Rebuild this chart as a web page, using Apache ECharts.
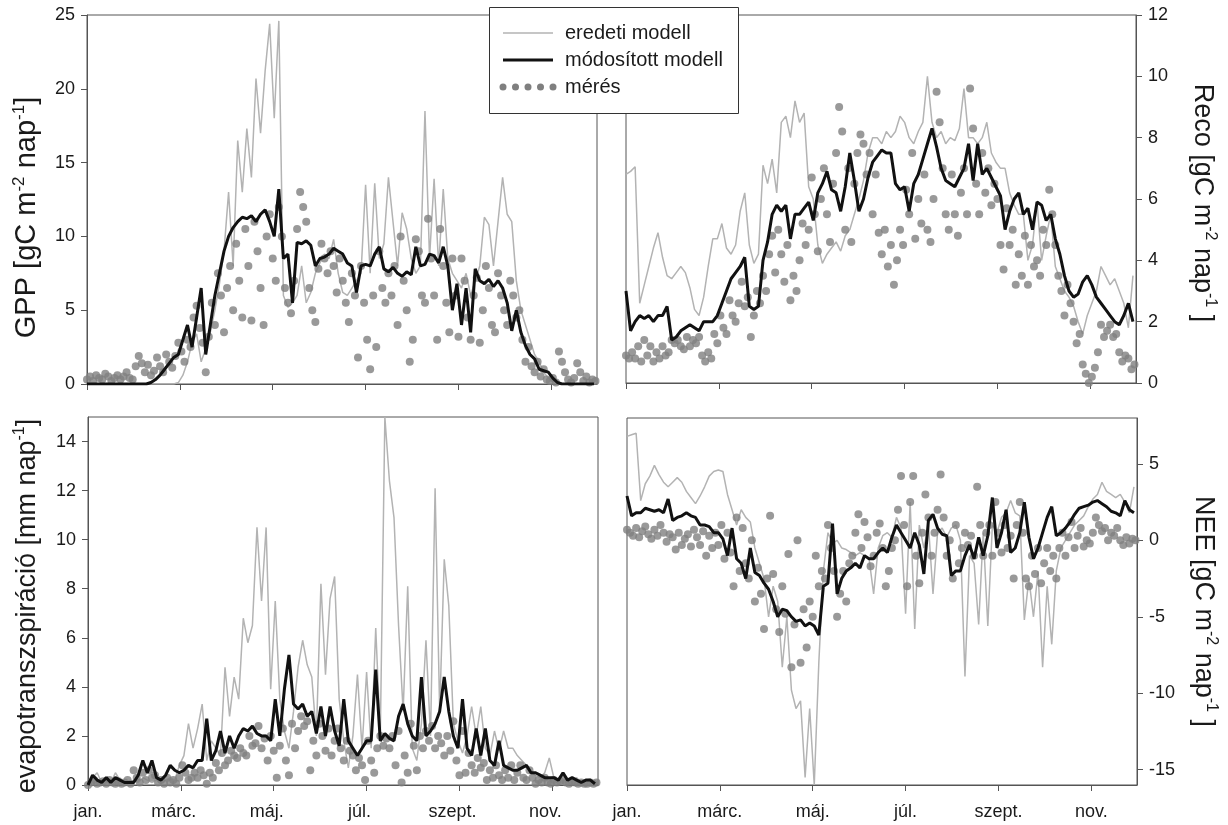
<!DOCTYPE html>
<html>
<head>
<meta charset="utf-8">
<script src="https://cdn.jsdelivr.net/npm/echarts@6/dist/echarts.min.js"></script>
<style>
html, body { margin: 0; padding: 0; background: #fff; }
#chart { width: 1228px; height: 825px; }
</style>
</head>
<body>
<div id="chart"></div>
<script>
// Model outputs are sampled every MODEL_STEP days, measurements every
// MEASURED_STEP days, both starting on 1 January.
const MODEL_STEP = 3;
const MEASURED_STEP = 2;

// Month ticks (day of period) and their labels.
const monthTicks = [0, 61, 122, 183, 244, 305];
const monthLabels = ['jan.', 'márc.', 'máj.', 'júl.', 'szept.', 'nov.'];

// Y tick values for each panel.
const gppTicks = [0, 5, 10, 15, 20, 25];
const recoTicks = [0, 2, 4, 6, 8, 10, 12];
const etTicks = [0, 2, 4, 6, 8, 10, 12, 14];
const neeTicks = [-15, -10, -5, 0, 5];

// GPP [gC m-2 nap-1]
const gppOriginal = [
  0,0,0,0,0,0,0,0,0,0,
  0,0,0,0,0,0,0,0,0,0,
  0.1,0.6,1.5,2.8,3.4,1.5,2.4,3.5,5,6.8,
  9,13,8,16.5,13,17.3,14,20.7,17,21.2,
  24.4,18,24.6,6,5.2,5.5,6,8,5.5,6.2,
  7.5,8.2,8.8,8.5,9.8,7.5,6.2,6,6.5,7,
  7.5,13.5,7.5,13.6,8.5,9.5,14,11,8,11.6,
  10.5,8.5,7.5,8,18.5,8.5,13.9,8,13.2,8.5,
  7.5,7,6.5,7.5,6,7,8,11.3,10.8,8,
  11,14,11.5,11,7,5,4,3,2,1.5,
  0.8,0.4,0.2,0,0,0,0,0,0,0,
  0,0
];
const gppModified = [
  0,0,0,0,0,0,0,0,0,0,
  0,0,0,0,0.1,0.3,0.6,1,1.4,1.8,
  2,3,4,2.5,4.5,6.5,2,4,6,7.5,
  9,10,10.6,11,11.3,11.2,11.4,11,11.5,11.8,
  11,10,13.2,8.5,8.8,5.5,9.6,9.5,9.7,9.4,
  8,8.5,8.6,8.8,9.2,9,8.8,8.2,8,6.2,
  8,8.1,8,8.8,9.3,7.8,7.6,7.9,7.5,7.3,
  7.6,7.4,9.3,8,8.1,8.8,8.7,8.2,9.3,8,
  5,6.8,4,6.5,3.5,7.8,7,6.8,7.1,6.6,
  7,6.5,5.5,3.6,5,3.5,2.6,2,1.7,1,
  0.9,0.8,0.4,0.1,0,0,0,0,0,0,
  0,0
];
const gppMeasured = [
  0.3,0.5,0.2,0.6,0.4,0.3,0.7,0.5,0.2,0.4,
  0.6,0.3,0.5,0.8,0.4,0.3,1.2,1.9,1.4,0.8,
  1.3,0.6,0.9,1.8,1.2,0.8,2,1.5,1.1,1.9,
  2.8,2.2,1.5,3,2.5,4.5,5.3,3.8,2.8,0.8,
  3.2,5.5,4,7.5,6,3.5,6.5,8,5,9.5,
  7,4.5,10.5,8,4.3,11,9,6.5,4,10,
  11.5,8.5,7,12,10,6.5,5.5,4.8,7,10.5,
  13,12,11,6.5,5,4.2,7.8,9.5,8.5,7.5,
  9,8,6.2,8.5,7,5.5,4.2,7.5,6,1.8,
  8,5.5,3,1,6,2.5,9,6.5,5.5,7.5,
  6,8,4,10,7,5,1.5,3,9.8,9,
  6,5.5,11.2,8.5,6,3,10.5,8,5.5,3.5,
  8.5,6,3.2,8.5,7,4.5,3,6,7.2,2.8,
  5,8,6.5,4,3.5,7.5,6,5,4,7,
  6,4.5,5,3,1.5,2.5,1.2,0.8,1.5,0.5,
  1,0.3,0.2,0.4,0.1,2.2,1.5,0.8,0.3,0.1,
  0.4,1.4,0.8,0.2,0.5,0.1,0.3,0.2
];

// Reco [gC m-2 nap-1]
const recoOriginal = [
  6.8,6.9,7.05,2.6,3.2,3.8,4.4,4.9,4.1,3.5,
  3.4,3.6,3.8,3.6,3.1,2.4,2.2,2.8,3.8,4.7,
  4.7,5.2,4.4,4.2,4.5,5.6,6.2,4.5,3.9,4.2,
  7.1,6.5,7.3,6.2,8.5,8.7,8,9.2,8.5,8.8,
  6.4,6,4.5,3.9,4.2,4.4,4.6,4.3,4.8,5,
  5.5,6,6.6,7.5,8,8,7.8,8.2,8,8.2,
  8.7,8.5,8,7.8,8.2,8.5,10,8.5,8,8.2,
  7.8,8,7.9,8.3,9.6,8,8,7.8,8,8.5,
  7.5,7.2,7,7,6.2,5.8,5.5,5.5,4,4.5,
  5.9,4,4.8,5.5,3.8,3.4,3,2.8,2.5,2,
  1.6,2.2,2.6,3,3.8,3.5,3.2,3.4,3,2.6,
  1.8,3.5
];
const recoModified = [
  3,1.7,2,2.2,2.1,2.2,2,2.2,2.2,2.5,
  1.4,1.5,1.7,1.8,1.9,1.8,1.7,2,2,2,
  2.2,2.6,3,3.4,3.6,3.8,4.1,2.5,2.4,2.5,
  4,4.6,5.5,5.8,5.6,5.8,4.7,5.5,5.5,5.7,
  5.9,5.3,6.2,6.5,6.9,6.3,6.2,5.6,6.4,7.5,
  6.6,5.6,6,6.7,7.2,7.4,7.6,7.5,7.5,6.5,
  6.3,6.4,5.6,6.5,6.8,7.3,7.8,8.3,7.7,7,
  6.6,6.5,6.4,6.7,7,7.8,6.6,7.8,6.8,7,
  6.7,6.4,6.1,5,5.6,6,6.2,5.5,5.7,5,
  5.9,5.8,5.3,5.5,4.7,4.2,3.5,3,2.8,2.9,
  3.3,3.5,3.2,2.8,2.6,2.4,2.2,2,1.9,2.2,
  2.6,2
];
const recoMeasured = [
  0.9,0.8,1,0.8,1.2,0.7,1.4,0.9,1.2,0.7,
  1,0.8,1.2,0.9,1,1.4,1.3,1.4,1.2,1.1,
  1.5,1.2,1.4,1.3,1.5,0.9,0.7,1,0.8,1.6,
  1.3,2.2,1.8,1.6,2.7,2.2,2,2.6,3.3,2.5,
  2.8,1.5,2.2,3,2.6,3.5,3,4.2,4.8,3.6,
  5,4.2,3.3,4.5,2.7,3.5,3,4,5.2,4.5,
  5,6.7,5.5,4.3,6,7,5.5,4.6,6.5,7.5,
  9,8.2,5,7,4.6,6.5,7.5,8.1,7.8,6.8,
  7.5,5.5,6.8,4.9,4.2,5,3.8,4.5,3.2,4,
  5,4.5,6.3,5.5,7.5,4.7,6,5.2,6.8,5,
  4.6,6,9.5,8.5,7,5.5,5,6.8,5.5,4.8,
  6.2,7,5.5,9.6,8.3,6.5,5.5,7.5,6.2,7,
  5.8,6.5,6,4.5,3.7,5.7,4.5,5,3.2,4.2,
  3.5,4.8,3.2,4.5,3.8,4,3.5,5,4.5,6.3,
  5.5,4.5,3.5,3,2.2,3.2,2.6,2,1.3,1.6,
  0.6,0.3,0,0.2,0.5,1,1.9,1.5,1.7,1.9,
  1.5,1.6,1,0.7,0.9,0.8,0.45,0.6
];

// Evapotranspiration [mm nap-1]
const etOriginal = [
  0,0.3,0.5,0.1,0.2,0.1,0.5,0.2,0.1,0.1,
  0.2,0.1,0.3,0.2,0.1,0.2,0.1,0.2,0.3,0.2,
  0.8,1.2,2.5,1.5,2.3,3.3,1,1.8,1.5,1.2,
  4.8,2.8,4.4,3.5,6.8,5.8,6.5,10.5,7.5,10.5,
  3.9,7.5,3.5,2.2,1.5,3,4.8,5.9,4.9,4.4,
  2,8.2,4.5,7.6,8.5,3.5,1.8,0.7,2,4.5,
  1.5,4.6,1.5,6.4,2,15,12.4,10.9,6.5,3,
  8.1,1.5,1,2.5,5.9,2,12.1,3,9.2,7.3,
  2.5,1.8,1.3,2,3.2,2,3.2,1.5,1.2,2.2,
  1.4,2.2,1.5,1.5,1.2,1,0.8,0.5,0.4,0.3,
  0.5,1.1,0.3,0.2,0.5,0.2,0.2,0.3,0.1,0.2,
  0.1,0.1
];
const etModified = [
  0,0.4,0.2,0.1,0.3,0.1,0.3,0.2,0.1,0.1,
  0.1,0.4,1,0.5,1,0.3,0.2,0.4,0.8,0.6,
  0.5,0.6,0.8,0.7,1,1,2.7,1,1.4,2.2,
  1.3,2,1.5,2,2.3,2.2,2.4,2.1,2,2,
  1.8,3.5,2,3.9,5.3,3.3,3.1,3.3,2.8,3,
  2.1,3.2,2,3.2,2.2,1.6,3.5,1.8,1.5,1.2,
  1.5,1.8,1.8,4.7,1.8,2.1,1.9,1.8,2.8,3.3,
  2.5,2,1.8,4.4,2,2.2,2.5,3,4.4,3,
  2,1.5,3.5,1.5,1.2,2.3,1.2,2.3,1,0.8,
  1.8,0.8,0.7,0.6,0.6,0.7,0.8,0.5,0.5,0.4,
  0.3,0.3,0.3,0.2,0.5,0.2,0.3,0.2,0.1,0.2,
  0.2,0.05
];
const etMeasured = [
  0,0.1,0.2,0.05,0.1,0.15,0.05,0.2,0.1,0.05,
  0.15,0.05,0.1,0.2,0.05,0.6,0.3,0.1,0.5,0.2,
  0.6,0.3,0.4,0.1,0.2,0.05,0.3,0.1,0.2,0.05,
  0.3,0.8,0.5,0.2,0.3,0.5,0.3,0.6,0.4,0.05,
  0.5,0.3,0.9,0.6,1.3,0.8,1,1.4,1.2,1.1,
  1.5,1.3,1.2,2,1.6,1.7,2.4,1.5,1.9,1,
  2,1.4,0.3,1.6,2.3,1,0.4,2.5,1.5,2.2,
  2.8,2.4,2.6,0.6,1.8,1.2,2.5,2,1.4,2.3,
  1.2,1.8,2.3,1.5,1,1.8,1.4,1.2,0.6,1.1,
  0.8,0.2,1.8,1,0.5,1.5,2,1.6,1.9,1.5,
  2,0.8,2.2,0.1,1.2,0.5,2.5,1.6,0.6,2,
  1.5,2.2,1.8,2.4,1.5,2,1.7,1.2,2,1.4,
  2.6,1,0.4,2.2,0.5,1.3,0.8,0.5,1.1,0.7,
  0.9,0.2,0.6,0.3,0.8,0.4,0.2,0.6,0.3,0.8,
  0.2,0.5,0.8,0.3,0.2,0.6,0.3,0.05,0.2,0.1,
  0.3,0.1,0.05,0.2,0.1,0.15,0.2,0.1,0.05,0.15,
  0.1,0.05,0.1,0.05,0.05,0.1,0.05,0.1
];

// NEE [gC m-2 nap-1]
const neeOriginal = [
  6.8,6.9,7,2.6,3.7,4.2,4.9,4.3,3.8,3.5,
  3.8,4.1,3.8,3.2,2.8,2.4,2.9,3.5,4.2,4.5,
  4.6,4.5,3,2,1,2,1.5,1.2,-0.5,-1.5,
  -2.5,-5,-3,-4,-8.3,-5,-9.8,-11,-10.5,-15.5,
  -11,-16,-8,-2,0.5,-0.2,0,-0.5,-0.6,-0.8,
  -1,-0.8,-1,-1.2,-3.5,-0.5,0.3,0.5,0.2,1.5,
  0.8,-4.8,2.5,-5.8,1,-0.5,1,-3.5,0.5,0.8,
  0.2,0.8,1,0,-8.9,-1,-1.5,-5.5,0.5,-5.6,
  1,0.5,1.5,1.8,2.6,1.8,1.6,-5.2,-2.5,-5,
  -2,-8.3,-3,-6.8,-2,-0.5,0,0.5,1,1.3,
  1.6,2.2,2.7,3,3.8,3.2,3,2.8,3,2.5,
  1.8,3.5
];
const neeModified = [
  2.9,1.6,1.8,1.8,2.1,2,1.9,2,1.8,2.7,
  1.3,1.5,1.6,1.8,1.6,1.5,1,1,0.9,0.5,
  0.5,0.1,-1,0.8,-1.2,-1.5,-2.5,-0.5,-2.1,-2.3,
  -2.8,-3.2,-4,-5,-4.5,-4.6,-5,-5.3,-5.2,-5.6,
  -5.4,-5.6,-6.2,-3,-2.8,1.1,-3.5,-2.5,-2,-1.8,
  -1.5,-1.8,-1,-1.2,-1.2,-0.8,-0.5,-0.8,0.2,1,
  0.5,0,-0.5,0.5,-0.3,-2.2,1.3,1.7,0.8,0.4,
  0.3,-2.3,-2,-2,-1,-0.3,-1.2,0.2,-1,0.3,
  2.8,-0.5,0.5,2,-0.8,-0.5,0.5,2.5,0.2,-1.2,
  -0.5,0.5,1.5,2.2,0.3,0.5,0.8,1.2,1.7,2.1,
  2.2,2.3,2.5,2.6,2.4,2.2,1.9,1.8,1.6,2.6,
  2,1.8
];
const neeMeasured = [
  0.7,0.5,0.3,0.8,0.2,0.6,0.9,0.4,0.1,0.7,
  0.3,1,0.5,-0.1,0.4,0.2,-0.6,0.5,-0.3,0.1,
  0.4,-0.4,0.7,0.2,-0.3,0.6,-1,0.3,-0.5,0.5,
  -0.3,1,-1.2,0.5,-0.8,-3,1.5,-2,0.8,-1.5,
  -2.5,0,-4,-1.8,-3.5,-5.8,-2.5,1.6,-2.2,-4.5,
  -6,-3,-4.8,-0.9,-8.3,-5.5,0,-8,-4.5,-7,
  -4,-5,-1,-3,-2,-2.5,1,-0.5,-2,-5,
  -3.5,-2,-4,-1.5,-1,0.5,1.7,-0.5,1.2,0.2,
  -1.7,-1,0.5,1.1,-0.5,-3,-2,-0.5,0,2,
  4.2,1,-3,2.5,4.2,-1,-2.8,0.5,3,1.5,
  -1,0.5,2,4.3,1.5,-1,0,-2.5,1,-1.5,
  -0.5,0.5,-0.3,0.3,-1,3.5,1,-1,0.5,1,
  -1,2.5,0.5,-0.8,1,-0.5,0.3,-2.5,1,2.5,
  0.5,-2.5,-3,-1,-2.2,-0.5,-2.8,-1.5,-0.5,-2,
  -1,-2.5,-0.5,0.5,-1,0.2,1.2,-0.5,0.3,0.8,
  -0.4,0,-0.2,0.5,1.5,1,0.6,0.8,0,0.5,
  0.3,0.8,0,-0.3,0.2,-0.2,0.1,0
];

const FONT = "'Liberation Sans', Arial, Helvetica, sans-serif";
const AXIS_COLOR = '#555';
const TEXT_COLOR = '#1a1a1a';
const ORIGINAL_COLOR = '#b3b3b3';
const MODIFIED_COLOR = '#111';
const MEASURED_COLOR = '#7f7f7f';

const toPoints = (arr, step) => arr.map((v, i) => [i * step, v]);

// Axis titles use rich text: t = normal, s = superscript, g = spacer that
// moves the title along the axis.
const panels = [
  { grid: { left: 87, top: 15, width: 510, height: 369 }, showX: false, side: 'left',
    min: 0, max: 25, ticks: gppTicks, nameGap: 44, nameSize: 29, labelShift: 0,
    name: '{t|GPP [gC m}{s|-2}{t| nap}{s|-1}{t|]}{g|}', spacer: 36,
    data: [gppOriginal, gppModified, gppMeasured] },
  { grid: { left: 626, top: 15, width: 510, height: 368 }, showX: false, side: 'right',
    min: 0, max: 12, ticks: recoTicks, nameGap: 50, nameSize: 27, labelShift: 0,
    name: '{g|}{t|Reco [gC m}{s|-2}{t| nap}{s|-1}{t| ]}', spacer: 8,
    data: [recoOriginal, recoModified, recoMeasured] },
  { grid: { left: 88, top: 417, width: 510, height: 368 }, showX: true, side: 'left',
    min: 0, max: 15, ticks: etTicks, nameGap: 44, nameSize: 27, labelShift: 14,
    name: '{t|evapotranszspiráció [mm nap}{s|-1}{t|]}{g|}', spacer: 10,
    data: [etOriginal, etModified, etMeasured] },
  { grid: { left: 627, top: 418, width: 510, height: 367 }, showX: true, side: 'right',
    min: -16, max: 8, ticks: neeTicks, nameGap: 50, nameSize: 27, labelShift: 0,
    name: '{g|}{t|NEE [gC m}{s|-2}{t| nap}{s|-1}{t| ]}', spacer: 20,
    data: [neeOriginal, neeModified, neeMeasured] }
];

const nameRich = p => ({
  t: { fontSize: p.nameSize, fontFamily: FONT, color: TEXT_COLOR, lineHeight: 32 },
  s: { fontSize: Math.round(p.nameSize * 0.58), fontFamily: FONT, color: TEXT_COLOR, verticalAlign: 'top', lineHeight: 32 },
  g: { width: p.spacer, lineHeight: 32 }
});

const option = {
  animation: false,
  backgroundColor: '#fff',
  textStyle: { fontFamily: FONT },
  grid: panels.map(p => Object.assign({ show: true, borderColor: AXIS_COLOR, borderWidth: 1 }, p.grid)),
  xAxis: panels.map((p, k) => ({
    type: 'value', gridIndex: k, min: 0, max: 335,
    axisLine: { show: true, onZero: false, lineStyle: { color: AXIS_COLOR } },
    axisTick: { show: true, length: 6, customValues: monthTicks, lineStyle: { color: AXIS_COLOR } },
    axisLabel: {
      show: p.showX, customValues: monthTicks, margin: 18,
      fontSize: 18, color: TEXT_COLOR, fontFamily: FONT,
      formatter: v => {
        const i = monthTicks.indexOf(v);
        return i <= 0 ? '{a|' + monthLabels[0] + '}' : '{b|' + monthLabels[i] + '}';
      },
      rich: {
        a: { fontSize: 18, color: TEXT_COLOR, fontFamily: FONT },
        b: { fontSize: 18, color: TEXT_COLOR, fontFamily: FONT, padding: [0, p.labelShift, 0, 0] }
      }
    },
    splitLine: { show: false }
  })),
  yAxis: panels.map((p, k) => ({
    type: 'value', gridIndex: k, position: p.side, min: p.min, max: p.max,
    name: p.name, nameLocation: 'middle', nameGap: p.nameGap,
    nameRotate: p.side === 'left' ? 90 : -90,
    nameTextStyle: { rich: nameRich(p) },
    axisLine: { show: true, onZero: false, lineStyle: { color: AXIS_COLOR } },
    axisTick: { show: true, length: 6, customValues: p.ticks, lineStyle: { color: AXIS_COLOR } },
    axisLabel: { customValues: p.ticks, margin: 12, fontSize: 18, color: TEXT_COLOR, fontFamily: FONT },
    splitLine: { show: false }
  })),
  series: panels.flatMap((p, k) => [
    { type: 'line', name: 'eredeti modell', xAxisIndex: k, yAxisIndex: k,
      data: toPoints(p.data[0], MODEL_STEP), showSymbol: false, z: 2,
      lineStyle: { color: ORIGINAL_COLOR, width: 1.5 } },
    { type: 'scatter', name: 'mérés', xAxisIndex: k, yAxisIndex: k,
      data: toPoints(p.data[2], MEASURED_STEP), symbolSize: 8, z: 3,
      itemStyle: { color: MEASURED_COLOR } },
    { type: 'line', name: 'módosított modell', xAxisIndex: k, yAxisIndex: k,
      data: toPoints(p.data[1], MODEL_STEP), showSymbol: false, z: 4,
      lineStyle: { color: MODIFIED_COLOR, width: 3 } }
  ]),
  graphic: [
    { type: 'rect', z: 100, shape: { x: 489.5, y: 7.5, width: 249, height: 106 },
      style: { fill: '#fff', stroke: '#333', lineWidth: 1 } },
    { type: 'line', z: 101, shape: { x1: 503, y1: 33, x2: 553, y2: 33 },
      style: { stroke: ORIGINAL_COLOR, lineWidth: 1.5 } },
    { type: 'line', z: 101, shape: { x1: 503, y1: 60, x2: 553, y2: 60 },
      style: { stroke: MODIFIED_COLOR, lineWidth: 3 } },
    ...[503, 515.5, 528, 540.5, 553].map(cx => ({
      type: 'circle', z: 101, shape: { cx: cx, cy: 87, r: 3.5 },
      style: { fill: MEASURED_COLOR }
    })),
    ...['eredeti modell', 'módosított modell', 'mérés'].map((txt, j) => ({
      type: 'text', z: 101, x: 565, y: [33, 60, 87][j],
      style: { text: txt, fontSize: 20, fontFamily: FONT, fill: TEXT_COLOR, verticalAlign: 'middle' }
    }))
  ]
};

const chart = echarts.init(document.getElementById('chart'), null, { renderer: 'canvas' });
chart.setOption(option);
</script>
</body>
</html>
